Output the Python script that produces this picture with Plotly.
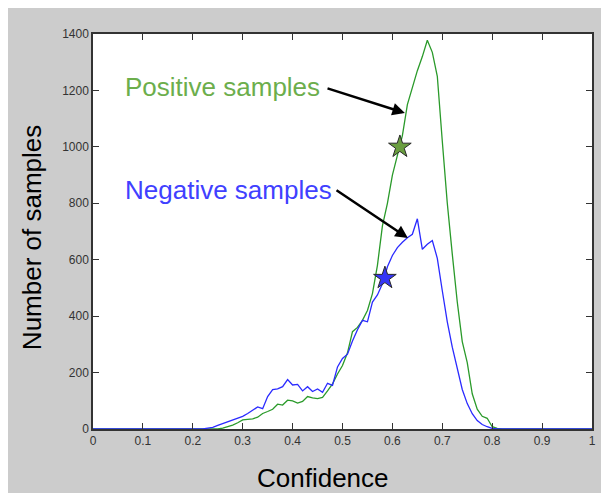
import plotly.graph_objects as go

# Confidence bins (x axis)
confidence = [0.00, 0.22, 0.23, 0.24, 0.25, 0.26, 0.27, 0.28, 0.29, 0.30, 0.31, 0.32,
              0.33, 0.34, 0.35, 0.36, 0.37, 0.38, 0.39, 0.40, 0.41, 0.42, 0.43, 0.44,
              0.45, 0.46, 0.47, 0.48, 0.49, 0.50, 0.51, 0.52, 0.53, 0.54, 0.55, 0.56,
              0.57, 0.58, 0.59, 0.60, 0.61, 0.62, 0.63, 0.64, 0.65, 0.66, 0.67, 0.68,
              0.69, 0.70, 0.71, 0.72, 0.73, 0.74, 0.75, 0.76, 0.77, 0.78, 0.79, 0.80,
              0.81, 0.82, 1.00]

negative_counts = [0, 0, 3, 6, 13, 19, 25, 31, 37, 45, 55, 66,
                   78, 72, 115, 140, 142, 150, 175, 156, 158, 135, 150, 133,
                   142, 130, 162, 155, 220, 250, 265, 312, 352, 385, 380, 450,
                   475, 515, 575, 615, 643, 662, 678, 690, 745, 637, 655, 668,
                   605, 490, 380, 290, 215, 140, 90, 54, 30, 16, 8, 2,
                   0, 0, 0]

positive_counts = [0, 0, 0, 0, 0, 3, 8, 14, 22, 32, 34, 36,
                   42, 55, 62, 70, 88, 85, 102, 100, 92, 98, 115, 110,
                   108, 112, 135, 160, 195, 225, 270, 345, 360, 385, 420, 480,
                   580, 720, 800, 900, 970, 1040, 1150, 1215, 1270, 1320, 1378, 1335,
                   1250, 1020, 800, 620, 450, 310, 235, 125, 70, 45, 38, 8,
                   2, 0, 0]

# Star markers
pos_star_x = [0.615]
pos_star_y = [1000]
neg_star_x = [0.585]
neg_star_y = [535]

x_ticks = [0, 0.1, 0.2, 0.3, 0.4, 0.5, 0.6, 0.7, 0.8, 0.9, 1]
x_tick_labels = ["0", "0.1", "0.2", "0.3", "0.4", "0.5", "0.6", "0.7", "0.8", "0.9", "1"]
y_ticks = [0, 200, 400, 600, 800, 1000, 1200, 1400]

FONT = "Liberation Sans, Arial, Helvetica, sans-serif"
GREEN_LINE = "#2a9a2a"
BLUE_LINE = "#2a2aff"

fig = go.Figure()
fig.add_trace(go.Scatter(x=confidence, y=positive_counts, mode="lines",
                         line=dict(color=GREEN_LINE, width=1.3), showlegend=False))
fig.add_trace(go.Scatter(x=confidence, y=negative_counts, mode="lines",
                         line=dict(color=BLUE_LINE, width=1.3), showlegend=False))
fig.add_trace(go.Scatter(x=pos_star_x, y=pos_star_y, mode="markers",
                         marker=dict(symbol="star", size=17, color="#6a9e3f",
                                     line=dict(color="#2a2a2a", width=1)),
                         showlegend=False))
fig.add_trace(go.Scatter(x=neg_star_x, y=neg_star_y, mode="markers",
                         marker=dict(symbol="star", size=17, color="#3535f5",
                                     line=dict(color="#2a2a2a", width=1)),
                         showlegend=False))

annotations = [
    dict(x=0.06, y=1212, xref="x", yref="y", text="Positive samples", showarrow=False,
         xanchor="left", yanchor="middle", font=dict(family=FONT, size=26, color="#6cae4c")),
    dict(x=0.06, y=847, xref="x", yref="y", text="Negative samples", showarrow=False,
         xanchor="left", yanchor="middle", font=dict(family=FONT, size=26, color="#4040ff")),
    dict(x=0.625, y=1120, ax=0.467, ay=1209, xref="x", yref="y", axref="x", ayref="y",
         text="", showarrow=True, arrowhead=2, arrowsize=1, arrowwidth=2.5, arrowcolor="black"),
    dict(x=0.631, y=677, ax=0.485, ay=850, xref="x", yref="y", axref="x", ayref="y",
         text="", showarrow=True, arrowhead=2, arrowsize=1, arrowwidth=2.5, arrowcolor="black"),
    dict(x=-0.122, y=0.4835, xref="paper", yref="paper", text="Number of samples",
         showarrow=False, textangle=-90, xanchor="center", yanchor="middle",
         font=dict(family=FONT, size=26, color="black")),
    dict(x=0.461, y=-0.124, xref="paper", yref="paper", text="Confidence",
         showarrow=False, xanchor="center", yanchor="middle",
         font=dict(family=FONT, size=26, color="black")),
]

fig.update_layout(
    width=609, height=493,
    margin=dict(l=85, r=25, t=26, b=72),
    paper_bgcolor="#cccccc",
    plot_bgcolor="white",
    annotations=annotations,
    font=dict(family=FONT, size=12, color="#333333"),
)
fig.update_xaxes(range=[0, 1], tickvals=x_ticks, ticktext=x_tick_labels,
                 ticks="inside", ticklen=6, tickcolor="#333", showgrid=False,
                 zeroline=False, showline=True, linecolor="#333", linewidth=1.5,
                 mirror="ticks", tickfont=dict(size=12, color="#333"))
fig.update_yaxes(range=[0, 1400], tickvals=y_ticks,
                 ticks="inside", ticklen=6, tickcolor="#333", showgrid=False,
                 zeroline=False, showline=True, linecolor="#333", linewidth=1.5,
                 mirror="ticks", tickfont=dict(size=12, color="#333"))

fig.write_html("out.html")
